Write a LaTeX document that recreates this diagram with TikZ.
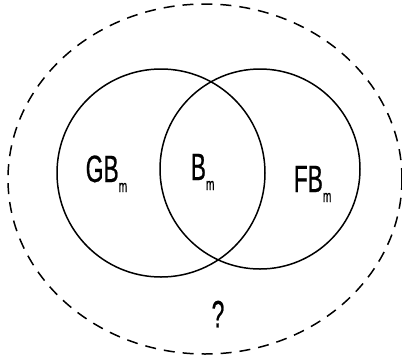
\documentclass[tikz,border=0pt]{standalone}
\usepackage{fontspec}
\usepackage{tikz}
\usetikzlibrary{shapes.geometric}
\newfontfamily\vennfont{Liberation Sans}[FakeStretch=0.6,FakeBold=0.6]
\newcommand\subm{\raisebox{-10pt}{\fontsize{17}{17}\selectfont m}}

\begin{document}
\begin{tikzpicture}[x=1pt,y=-1pt,line width=1.5pt]
  \tikzset{setcircle/.style={draw,circle,inner sep=0pt},
    setlabel/.style={inner sep=0pt,font=\vennfont\fontsize{38}{38}\selectfont}}
  \useasboundingbox (0,0) rectangle (402,360);
  \node[draw,ellipse,dash pattern=on 11pt off 8pt,inner sep=0pt,minimum width=394pt,minimum height=350pt] (universe) at (205,179) {};
  \node[setcircle,minimum size=208pt] (gset) at (161,173) {};
  \node[setcircle,minimum size=200pt] (fset) at (260,169) {};
  \node[setlabel,anchor=base west] (glabel) at (85,182) {GB\subm};
  \node[setlabel,anchor=base west] (blabel) at (190,180) {B\subm};
  \node[setlabel,anchor=base west] (flabel) at (293,192) {FB\subm};
  \node[setlabel] (unknown) at (218,314) {?};
\end{tikzpicture}
\end{document}
